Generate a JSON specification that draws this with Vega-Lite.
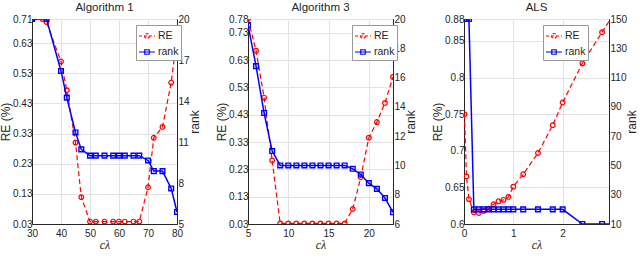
{
  "$schema": "https://vega.github.io/schema/vega-lite/v6.json",
  "background": "white",
  "padding": {"left": -1, "top": 1, "right": 0, "bottom": 0},
  "config": {
    "font": "Liberation Sans",
    "view": {"stroke": "#262626", "strokeWidth": 1},
    "axis": {
      "grid": true, "gridColor": "#e3e3e3", "domainColor": "#262626", "ticks": false,
      "labelFont": "Liberation Sans", "labelFontSize": 10, "labelColor": "#262626",
      "labelOverlap": false, "labelFlush": false, "labelBound": false, "labelPadding": 0,
      "titleFont": "Liberation Sans", "titleFontSize": 12, "titleFontWeight": "normal", "titleColor": "#262626", "titlePadding": 0
    },
    "axisRight": {"labelPadding": 1, "titlePadding": 0},
    "axisX": {"labelPadding": 4, "titlePadding": 1, "titleFont": "Liberation Serif", "titleFontStyle": "italic", "titleFontSize": 12},
    "title": {"font": "Liberation Sans", "fontSize": 11.5, "fontWeight": "normal", "offset": 1, "color": "#262626"},
    "legend": {
      "orient": "none", "legendY": 6, "fillColor": "white", "strokeColor": "#999999", "padding": 2,
      "labelFont": "Liberation Sans", "labelFontSize": 10.5, "labelColor": "#262626", "labelOffset": 2,
      "symbolSize": 256, "symbolStrokeWidth": 1.2, "rowPadding": 1, "title": null
    }
  },
  "datasets": {
    "a1": [
      {"x": 30, "s": "RE", "v": 0.71}, {"x": 35, "s": "RE", "v": 0.70}, {"x": 40, "s": "RE", "v": 0.569},
      {"x": 42, "s": "RE", "v": 0.474}, {"x": 45, "s": "RE", "v": 0.30}, {"x": 47, "s": "RE", "v": 0.119},
      {"x": 50, "s": "RE", "v": 0.038}, {"x": 52, "s": "RE", "v": 0.038}, {"x": 55, "s": "RE", "v": 0.038},
      {"x": 58, "s": "RE", "v": 0.038}, {"x": 60, "s": "RE", "v": 0.038}, {"x": 62, "s": "RE", "v": 0.038},
      {"x": 65, "s": "RE", "v": 0.038}, {"x": 67, "s": "RE", "v": 0.038}, {"x": 70, "s": "RE", "v": 0.152},
      {"x": 72, "s": "RE", "v": 0.316}, {"x": 75, "s": "RE", "v": 0.352}, {"x": 78, "s": "RE", "v": 0.499},
      {"x": 80, "s": "RE", "v": 0.649},
      {"x": 30, "s": "rank", "v": 20}, {"x": 35, "s": "rank", "v": 20}, {"x": 40, "s": "rank", "v": 16.2},
      {"x": 42, "s": "rank", "v": 14.25}, {"x": 45, "s": "rank", "v": 11.7}, {"x": 47, "s": "rank", "v": 10.46},
      {"x": 50, "s": "rank", "v": 10}, {"x": 52, "s": "rank", "v": 10}, {"x": 55, "s": "rank", "v": 10},
      {"x": 58, "s": "rank", "v": 10}, {"x": 60, "s": "rank", "v": 10}, {"x": 62, "s": "rank", "v": 10},
      {"x": 65, "s": "rank", "v": 10}, {"x": 67, "s": "rank", "v": 10}, {"x": 70, "s": "rank", "v": 9.65},
      {"x": 72, "s": "rank", "v": 8.87}, {"x": 75, "s": "rank", "v": 8.87}, {"x": 78, "s": "rank", "v": 7.6},
      {"x": 80, "s": "rank", "v": 5.88}
    ],
    "a3": [
      {"x": 5, "s": "RE", "v": 0.78}, {"x": 6, "s": "RE", "v": 0.664}, {"x": 7, "s": "RE", "v": 0.4925},
      {"x": 8, "s": "RE", "v": 0.2625}, {"x": 9, "s": "RE", "v": 0.032}, {"x": 10, "s": "RE", "v": 0.032},
      {"x": 11, "s": "RE", "v": 0.032}, {"x": 12, "s": "RE", "v": 0.032}, {"x": 13, "s": "RE", "v": 0.032},
      {"x": 14, "s": "RE", "v": 0.032}, {"x": 15, "s": "RE", "v": 0.032}, {"x": 16, "s": "RE", "v": 0.032},
      {"x": 17, "s": "RE", "v": 0.032}, {"x": 18, "s": "RE", "v": 0.085}, {"x": 19, "s": "RE", "v": 0.201},
      {"x": 20, "s": "RE", "v": 0.346}, {"x": 21, "s": "RE", "v": 0.403}, {"x": 22, "s": "RE", "v": 0.473},
      {"x": 23, "s": "RE", "v": 0.568},
      {"x": 5, "s": "rank", "v": 19.58}, {"x": 6, "s": "rank", "v": 16.78}, {"x": 7, "s": "rank", "v": 13.58},
      {"x": 8, "s": "rank", "v": 10.98}, {"x": 9, "s": "rank", "v": 10}, {"x": 10, "s": "rank", "v": 10},
      {"x": 11, "s": "rank", "v": 10}, {"x": 12, "s": "rank", "v": 10}, {"x": 13, "s": "rank", "v": 10},
      {"x": 14, "s": "rank", "v": 10}, {"x": 15, "s": "rank", "v": 10}, {"x": 16, "s": "rank", "v": 10},
      {"x": 17, "s": "rank", "v": 10}, {"x": 18, "s": "rank", "v": 9.77}, {"x": 19, "s": "rank", "v": 9.38},
      {"x": 20, "s": "rank", "v": 8.79}, {"x": 21, "s": "rank", "v": 8.4}, {"x": 22, "s": "rank", "v": 7.78},
      {"x": 23, "s": "rank", "v": 6.8}
    ],
    "als": [
      {"x": 0.01, "s": "RE", "v": 0.75}, {"x": 0.05, "s": "RE", "v": 0.665}, {"x": 0.1, "s": "RE", "v": 0.634},
      {"x": 0.2, "s": "RE", "v": 0.616}, {"x": 0.3, "s": "RE", "v": 0.615}, {"x": 0.4, "s": "RE", "v": 0.618},
      {"x": 0.5, "s": "RE", "v": 0.621}, {"x": 0.6, "s": "RE", "v": 0.627}, {"x": 0.7, "s": "RE", "v": 0.631},
      {"x": 0.8, "s": "RE", "v": 0.633}, {"x": 0.9, "s": "RE", "v": 0.637}, {"x": 1.0, "s": "RE", "v": 0.651},
      {"x": 1.2, "s": "RE", "v": 0.668}, {"x": 1.5, "s": "RE", "v": 0.697}, {"x": 1.8, "s": "RE", "v": 0.735},
      {"x": 2.0, "s": "RE", "v": 0.766}, {"x": 2.4, "s": "RE", "v": 0.8195}, {"x": 2.8, "s": "RE", "v": 0.862},
      {"x": 3.0, "s": "RE", "v": 0.883},
      {"x": 0.01, "s": "rank", "v": 150}, {"x": 0.05, "s": "rank", "v": 150}, {"x": 0.1, "s": "rank", "v": 150},
      {"x": 0.2, "s": "rank", "v": 20}, {"x": 0.3, "s": "rank", "v": 20}, {"x": 0.4, "s": "rank", "v": 20},
      {"x": 0.5, "s": "rank", "v": 20}, {"x": 0.6, "s": "rank", "v": 20}, {"x": 0.7, "s": "rank", "v": 20},
      {"x": 0.8, "s": "rank", "v": 20}, {"x": 0.9, "s": "rank", "v": 20}, {"x": 1.0, "s": "rank", "v": 20},
      {"x": 1.2, "s": "rank", "v": 20}, {"x": 1.5, "s": "rank", "v": 20}, {"x": 1.8, "s": "rank", "v": 20},
      {"x": 2.0, "s": "rank", "v": 20}, {"x": 2.4, "s": "rank", "v": 10}, {"x": 2.8, "s": "rank", "v": 10},
      {"x": 3.0, "s": "rank", "v": 10}
    ]
  },
  "bounds": "flush",
  "spacing": 71,
  "resolve": {"scale": {"color": "independent"}, "legend": {"color": "independent"}},
  "hconcat": [
    {
      "title": "Algorithm 1",
      "width": 145, "height": 205,
      "data": {"name": "a1"},
      "encoding": {"x": {"field": "x", "type": "quantitative", "scale": {"domain": [30, 80], "nice": false, "zero": false}, "axis": {"values": [30, 40, 50, 60, 70, 80], "title": "cλ"}}},
      "layer": [
        {
          "transform": [{"filter": "datum.s === 'RE'"}],
          "encoding": {
            "y": {"field": "v", "type": "quantitative", "scale": {"domain": [0.03, 0.71], "nice": false, "zero": false}, "axis": {"orient": "left", "values": [0.03, 0.13, 0.23, 0.33, 0.43, 0.53, 0.63, 0.71], "labelOverlap": false, "labelExpr": "toString(round(datum.value * 100) / 100)", "title": "RE (%)"}},
            "color": {"field": "s", "type": "nominal", "scale": {"domain": ["RE", "rank"], "range": ["#ff0000", "#0000ff"]},
              "legend": {"legendX": 104, "encode": {"symbols": {"update": {
                "shape": {"signal": "datum.value === 'RE' ? 'M-1,0H1M0.31,0A0.31,0.31,0,1,1,-0.31,0A0.31,0.31,0,1,1,0.31,0' : 'M-1,0H1M-0.28,-0.28H0.28V0.28H-0.28Z'"},
                "strokeDash": {"signal": "datum.value === 'RE' ? [3, 2] : [1, 0]"},
                "fill": {"value": "transparent"}}}}}}
          },
          "layer": [
            {"mark": {"type": "line", "strokeDash": [5, 3], "strokeWidth": 1.2, "clip": true}},
            {"mark": {"type": "point", "shape": "circle", "filled": false, "size": 22, "strokeWidth": 1.2, "opacity": 1, "clip": true}}
          ]
        },
        {
          "transform": [{"filter": "datum.s === 'rank'"}],
          "encoding": {
            "y": {"field": "v", "type": "quantitative", "scale": {"domain": [5, 20], "nice": false, "zero": false}, "axis": {"orient": "right", "grid": false, "values": [5, 8, 11, 14, 17, 20], "labelOverlap": false, "labelExpr": "toString(datum.value)", "title": "rank", "titleAngle": -90, "titleBaseline": "top"}},
            "color": {"field": "s", "type": "nominal", "scale": {"domain": ["RE", "rank"], "range": ["#ff0000", "#0000ff"]}, "legend": null}
          },
          "layer": [
            {"mark": {"type": "line", "strokeWidth": 1.5, "clip": true}},
            {"mark": {"type": "point", "shape": "square", "filled": false, "size": 22, "strokeWidth": 1.4, "opacity": 1, "clip": true}}
          ]
        }
      ],
      "resolve": {"scale": {"y": "independent"}}
    },
    {
      "title": "Algorithm 3",
      "width": 145, "height": 205,
      "data": {"name": "a3"},
      "encoding": {"x": {"field": "x", "type": "quantitative", "scale": {"domain": [5, 23], "nice": false, "zero": false}, "axis": {"values": [5, 10, 15, 20], "title": "cλ"}}},
      "layer": [
        {
          "transform": [{"filter": "datum.s === 'RE'"}],
          "encoding": {
            "y": {"field": "v", "type": "quantitative", "scale": {"domain": [0.03, 0.78], "nice": false, "zero": false}, "axis": {"orient": "left", "values": [0.03, 0.13, 0.23, 0.33, 0.43, 0.53, 0.63, 0.73, 0.78], "labelOverlap": false, "labelExpr": "toString(round(datum.value * 100) / 100)", "title": "RE (%)"}},
            "color": {"field": "s", "type": "nominal", "scale": {"domain": ["RE", "rank"], "range": ["#ff0000", "#0000ff"]},
              "legend": {"legendX": 104, "encode": {"symbols": {"update": {
                "shape": {"signal": "datum.value === 'RE' ? 'M-1,0H1M0.31,0A0.31,0.31,0,1,1,-0.31,0A0.31,0.31,0,1,1,0.31,0' : 'M-1,0H1M-0.28,-0.28H0.28V0.28H-0.28Z'"},
                "strokeDash": {"signal": "datum.value === 'RE' ? [3, 2] : [1, 0]"},
                "fill": {"value": "transparent"}}}}}}
          },
          "layer": [
            {"mark": {"type": "line", "strokeDash": [5, 3], "strokeWidth": 1.2, "clip": true}},
            {"mark": {"type": "point", "shape": "circle", "filled": false, "size": 22, "strokeWidth": 1.2, "opacity": 1, "clip": true}}
          ]
        },
        {
          "transform": [{"filter": "datum.s === 'rank'"}],
          "encoding": {
            "y": {"field": "v", "type": "quantitative", "scale": {"domain": [6, 20], "nice": false, "zero": false}, "axis": {"orient": "right", "grid": false, "values": [6, 8, 10, 12, 14, 16, 18, 20], "labelOverlap": false, "labelExpr": "toString(datum.value)", "title": "rank", "titleAngle": -90, "titleBaseline": "top"}},
            "color": {"field": "s", "type": "nominal", "scale": {"domain": ["RE", "rank"], "range": ["#ff0000", "#0000ff"]}, "legend": null}
          },
          "layer": [
            {"mark": {"type": "line", "strokeWidth": 1.5, "clip": true}},
            {"mark": {"type": "point", "shape": "square", "filled": false, "size": 22, "strokeWidth": 1.4, "opacity": 1, "clip": true}}
          ]
        }
      ],
      "resolve": {"scale": {"y": "independent"}}
    },
    {
      "title": "ALS",
      "width": 145, "height": 205,
      "data": {"name": "als"},
      "encoding": {"x": {"field": "x", "type": "quantitative", "scale": {"domain": [0, 2.94], "nice": false, "zero": false}, "axis": {"values": [0, 1, 2], "title": "cλ"}}},
      "layer": [
        {
          "transform": [{"filter": "datum.s === 'RE'"}],
          "encoding": {
            "y": {"field": "v", "type": "quantitative", "scale": {"domain": [0.6, 0.88], "nice": false, "zero": false}, "axis": {"orient": "left", "values": [0.6, 0.65, 0.7, 0.75, 0.8, 0.85, 0.88], "labelOverlap": false, "labelExpr": "toString(round(datum.value * 100) / 100)", "title": "RE (%)"}},
            "color": {"field": "s", "type": "nominal", "scale": {"domain": ["RE", "rank"], "range": ["#ff0000", "#0000ff"]},
              "legend": {"legendX": 79, "encode": {"symbols": {"update": {
                "shape": {"signal": "datum.value === 'RE' ? 'M-1,0H1M0.31,0A0.31,0.31,0,1,1,-0.31,0A0.31,0.31,0,1,1,0.31,0' : 'M-1,0H1M-0.28,-0.28H0.28V0.28H-0.28Z'"},
                "strokeDash": {"signal": "datum.value === 'RE' ? [3, 2] : [1, 0]"},
                "fill": {"value": "transparent"}}}}}}
          },
          "layer": [
            {"mark": {"type": "line", "strokeDash": [5, 3], "strokeWidth": 1.2, "clip": true}},
            {"mark": {"type": "point", "shape": "circle", "filled": false, "size": 22, "strokeWidth": 1.2, "opacity": 1, "clip": true}}
          ]
        },
        {
          "transform": [{"filter": "datum.s === 'rank'"}],
          "encoding": {
            "y": {"field": "v", "type": "quantitative", "scale": {"domain": [10, 150], "nice": false, "zero": false}, "axis": {"orient": "right", "grid": false, "values": [10, 30, 50, 70, 90, 110, 130, 150], "labelOverlap": false, "labelExpr": "toString(datum.value)", "title": "rank", "titleAngle": -90, "titleBaseline": "top"}},
            "color": {"field": "s", "type": "nominal", "scale": {"domain": ["RE", "rank"], "range": ["#ff0000", "#0000ff"]}, "legend": null}
          },
          "layer": [
            {"mark": {"type": "line", "strokeWidth": 1.5, "clip": true}},
            {"mark": {"type": "point", "shape": "square", "filled": false, "size": 22, "strokeWidth": 1.4, "opacity": 1, "clip": true}}
          ]
        }
      ],
      "resolve": {"scale": {"y": "independent"}}
    }
  ]
}
